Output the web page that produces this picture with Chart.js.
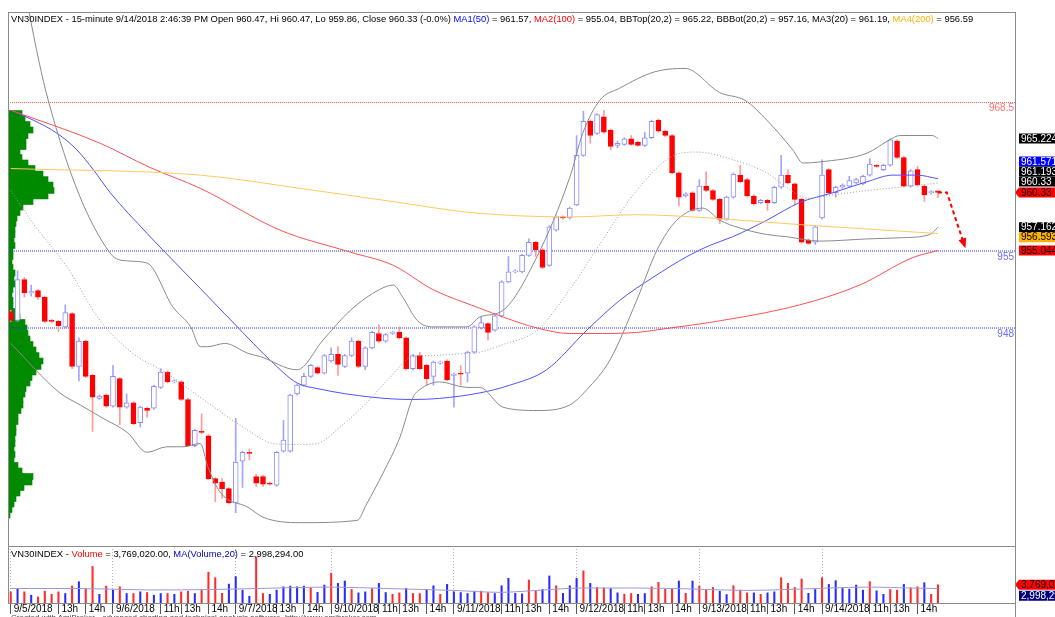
<!DOCTYPE html>
<html lang="en">
<head>
  <meta charset="UTF-8" />
  <title>VN30INDEX - 15-minute</title>
  <script src="https://cdn.jsdelivr.net/npm/chart.js"></script>
  <style>
    html, body { margin: 0; padding: 0; background: #fff; overflow: hidden; }
    body { width: 1055px; height: 617px; position: relative; font-family: 'Liberation Sans', Arial, sans-serif; }
    canvas { position: absolute; left: 0; }
    .hdr { position: absolute; left: 11px; font-size: 9.4px; line-height: 11px; white-space: nowrap; color: #000; }
    .foot { position: absolute; left: 11px; top: 613px; font-size: 8px; color: #444; white-space: nowrap; }
    .rule { position: absolute; background: #8a8a8a; }
  </style>
</head>
<body>
  <canvas id="profile" width="1055" height="546" style="top:0"></canvas>
  <canvas id="main" width="1055" height="546" style="top:0"></canvas>
  <canvas id="vol" width="1055" height="71" style="top:546px"></canvas>

  <div class="rule" style="left:8px; top:12px; width:1007px; height:1px"></div>
  <div class="rule" style="left:8px; top:12px; width:1px; height:591px"></div>
  <div class="rule" style="left:1015px; top:12px; width:1px; height:605px"></div>
  <div class="rule" style="left:8px; top:546px; width:1007px; height:1px"></div>

  <div class="hdr" style="top:13px">VN30INDEX - 15-minute 9/14/2018 2:46:39 PM Open 960.47, Hi 960.47, Lo 959.86, Close 960.33 (-0.0%) <span style="color:#0000ff">MA1(50)</span> = 961.57, <span style="color:#ff0000">MA2(100)</span> = 955.04, BBTop(20,2) = 965.22, BBBot(20,2) = 957.16, MA3(20) = 961.19, <span style="color:#ffb000">MA4(200)</span> = 956.59</div>
  <div class="hdr" style="top:548px">VN30INDEX - <span style="color:#ff0000">Volume</span> = 3,769,020.00, <span style="color:#0000c0">MA(Volume,20)</span> = 2,998,294.00</div>
  <div class="foot">Created with AmiBroker - advanced charting and technical analysis software. http://www.amibroker.com</div>

  <script>
    // 15-minute bars (index 0 = first visible bar)
    const openP = [949.5,948.7,952.4,951.2,951.4,950.8,948.7,948.6,948.1,949.3,944.5,946.8,943.7,941.6,941.9,940.9,943.4,940.8,941.2,939.4,
      940.7,940.7,942.6,944.0,943.1,943.1,941.5,937.3,938.6,938.2,934.3,934.0,933.4,932.1,935.9,936.7,934.5,934.5,933.9,933.7,
      936.8,936.8,942.0,942.8,943.6,944.4,943.9,945.0,945.6,944.5,945.5,946.8,944.5,946.2,947.5,946.8,947.5,947.6,947.1,944.3,
      945.5,944.6,943.6,944.8,945.0,943.7,943.9,943.9,945.8,948.0,948.4,947.8,949.1,952.2,953.1,953.1,954.6,955.8,955.1,953.7,
      956.9,958.1,958.0,959.2,963.7,966.8,965.7,967.2,966.0,964.6,964.7,965.2,964.9,964.6,965.3,966.9,965.9,965.5,962.1,960.0,
      960.3,958.7,960.9,960.5,959.7,957.9,959.9,961.9,961.5,960.0,959.4,959.6,959.4,960.8,961.9,961.1,959.7,956.0,955.8,958.0,
      962.4,960.3,960.8,960.9,961.2,961.1,961.9,962.8,962.4,962.8,965.0,963.5,960.9,962.4,960.9,960.3,960.47];
    const highP = [949.6,953.2,952.6,951.9,951.5,950.9,948.8,948.7,950.1,949.4,947.1,946.9,943.8,941.9,942.0,944.6,943.5,942.0,941.3,940.9,
      940.8,942.8,944.3,944.1,943.3,943.2,941.6,938.8,940.2,938.3,934.4,934.3,933.5,939.8,936.8,937.0,934.7,934.6,934.0,936.8,
      939.6,942.0,942.9,943.9,944.7,944.5,945.6,946.2,946.3,945.6,947.1,946.9,946.3,947.7,948.3,947.5,947.7,948.1,947.2,945.6,
      945.8,944.7,945.0,945.0,945.1,943.9,944.6,945.9,948.2,949.0,948.5,949.2,952.3,954.5,953.3,954.7,956.1,955.9,955.2,957.3,
      958.2,958.2,959.0,965.5,967.7,966.9,967.5,967.8,966.1,965.0,965.3,965.5,965.0,965.8,966.9,967.0,966.0,965.6,962.2,960.3,
      960.4,961.5,962.2,960.6,959.8,960.0,962.1,962.8,961.6,960.1,959.7,959.7,960.9,963.7,962.4,961.2,959.8,956.1,957.3,963.3,
      962.5,960.9,961.1,961.8,961.6,961.9,963.4,962.9,962.9,965.2,965.1,963.6,962.4,962.7,961.0,960.5,960.47];
    const lowP = [948.6,948.6,950.8,950.9,950.6,948.5,948.5,947.7,948.0,944.3,943.2,943.5,938.6,941.5,940.8,940.8,939.2,940.7,939.2,939.0,
      939.9,940.6,942.5,943.0,943.0,941.4,937.2,937.2,938.4,934.2,932.2,932.5,932.0,931.2,933.5,936.0,933.6,933.6,933.7,933.6,
      936.7,936.7,941.9,942.7,943.5,943.8,943.8,944.9,943.7,944.4,945.4,944.4,944.2,946.1,946.7,946.7,947.4,947.0,944.2,944.2,
      944.2,942.8,942.8,944.7,943.2,940.8,942.8,943.1,945.7,947.9,946.9,947.7,949.0,952.1,953.0,953.0,954.5,954.5,953.4,953.6,
      956.8,957.9,957.9,959.1,963.6,964.8,965.6,965.7,964.2,964.4,964.6,964.6,964.5,964.5,965.2,965.8,965.4,962.0,959.1,959.9,
      958.6,958.6,960.4,959.6,957.5,957.8,959.8,961.2,959.9,959.2,959.3,958.7,959.3,960.7,961.1,959.2,955.7,955.6,955.6,957.9,
      960.2,959.9,960.7,960.8,961.1,961.0,961.8,962.6,962.3,962.7,963.4,960.8,960.8,960.9,959.5,960.2,959.86];
    const closeP = [948.7,952.4,951.2,951.3,950.8,948.6,948.6,948.2,949.4,944.5,946.8,943.6,941.7,941.8,940.9,943.6,940.8,941.2,939.3,940.8,
      940.5,942.7,944.0,943.1,943.2,941.5,937.3,938.7,938.5,934.3,933.9,933.4,932.1,935.8,936.7,936.6,933.9,933.8,933.8,936.7,
      937.8,941.9,942.8,943.6,944.6,943.9,945.5,945.6,944.7,945.5,946.8,944.5,946.2,947.6,946.8,947.4,947.6,947.1,944.3,945.5,
      944.3,943.4,944.9,944.9,943.3,943.8,943.8,945.8,948.1,948.5,947.6,949.1,952.2,953.1,953.2,954.6,955.8,955.1,953.5,957.2,
      958.1,958.0,958.9,963.7,966.8,965.5,967.4,965.8,964.5,964.8,965.2,964.7,964.6,965.3,966.8,965.9,965.5,962.1,959.9,960.2,
      958.7,960.9,960.5,959.7,957.9,959.9,962.0,961.3,960.0,959.3,959.6,959.4,960.8,961.9,961.2,959.7,955.8,955.7,957.2,961.9,
      960.3,960.8,961.0,961.4,961.5,961.8,962.9,962.7,962.8,965.1,963.5,960.9,962.3,961.0,960.1,960.4,960.33];

    // volume in millions, colour letter per bar as drawn
    const volume = [2.31,3.01,2.31,1.61,1.26,2.45,1.8,2.31,1.96,3.5,4.41,3.01,7.56,1.8,3.5,2.66,3.36,1.96,1.96,2.31,
      2.17,1.61,1.96,1.96,1.8,2.31,2.45,1.96,2.66,6.37,5.25,2.0,3.92,5.46,2.66,1.4,9.52,1.96,1.8,2.66,
      3.36,3.5,3.36,3.5,3.15,2.2,3.71,6.16,4.06,4.55,2.8,2.1,2.31,3.01,4.06,2.17,1.8,2.1,3.01,1.96,
      1.96,2.8,3.57,1.8,3.85,2.31,2.17,1.96,2.45,2.45,2.17,1.96,3.57,5.11,2.0,1.89,4.76,2.45,2.8,5.6,
      3.57,2.0,3.57,5.11,6.65,4.06,3.22,3.15,3.01,2.1,1.82,1.96,1.8,1.96,3.36,4.27,2.87,3.01,4.55,2.0,
      4.55,3.5,2.8,3.22,2.45,1.75,3.57,2.66,2.1,2.1,1.8,2.1,2.31,5.25,4.06,3.22,4.97,2.0,2.8,5.25,
      3.85,4.62,3.01,2.87,3.71,2.66,4.41,2.52,1.8,2.8,2.66,3.85,3.15,3.36,4.2,1.8,3.769];
    const volDir = ('rbrbrrrrbrbrrbrbrbrbrbbrbrrbrrrrbbbbrrbbbbbbrbbrbbrbbrbbrrbrrbbrbbbbbrrbbbbbrrbbrbbbrbrrbbrrbbrrrrbrbrrrbbrrrbrbbrrrrbbrbbbbbbrbbrrbrrbr').split('');

    const volMaIdx = [0, 10, 20, 30, 36, 47, 55, 65, 72, 76, 84, 92, 100, 108, 114, 120, 126, 132, 136];
    const volMa    = [3.0, 3.0, 2.7, 2.8, 3.0, 3.3, 3.0, 2.6, 2.2, 2.5, 3.1, 3.1, 2.9, 2.6, 2.8, 3.1, 3.3, 3.1, 2.998];

    // indicator lines, values read at selected bars
    const ma50Idx = [0, 3.3, 6.8, 9.7, 12.1, 14.6, 20.0, 22.3, 27.8, 34.8, 38.0, 42.0, 44.9, 53.1, 59.0, 62.9, 68.8, 73.2, 78.6, 84.5, 89.3, 94.2, 99.2, 102.5, 105.9, 110.9, 115.7, 120.6, 125.6, 129.4, 132.9, 136];
    const ma50    = [967.8, 966.9, 965.7, 964.2, 962.4, 960.3, 956.6, 955.1, 951.6, 947.1, 945.1, 943.0, 942.5, 941.7, 941.5, 941.6, 942.1, 942.8, 944.2, 947.8, 950.5, 952.6, 954.5, 955.5, 956.3, 957.8, 959.4, 960.3, 961.3, 961.9, 961.9, 961.57];
    const ma100Idx = [0, 13.1, 20.4, 27.8, 39.5, 49.8, 56.1, 61.9, 68.8, 72.2, 77.2, 82.0, 86.8, 91.8, 96.7, 102.5, 115.7, 124.5, 132.3, 136];
    const ma100    = [967.8, 964.8, 962.6, 960.7, 956.9, 954.9, 953.7, 951.5, 949.8, 949.0, 948.0, 947.5, 947.5, 947.6, 948.0, 948.5, 950.1, 951.9, 954.4, 955.04];
    const ma200Idx = [0, 27.8, 42.4, 57.1, 67.4, 82.0, 91.8, 102.5, 115.7, 136];
    const ma200    = [962.5, 961.9, 960.7, 959.4, 958.5, 958.1, 958.3, 958.0, 957.4, 956.59];
    const ma20Idx = [0, 3.3, 8.3, 13.1, 17.9, 22.9, 27.8, 34.8, 38.5, 42.0, 44.9, 48.3, 52.2, 55.6, 59.0, 61.9, 66.9, 68.8, 72.2, 77.2, 82.0, 86.8, 91.8, 96.7, 100.6, 105.9, 110.9, 114.7, 116.8, 120.6, 125.6, 130.4, 136];
    const ma20    = [960.5, 957.5, 953.5, 948.7, 945.7, 943.9, 941.7, 938.7, 937.5, 937.4, 937.5, 939.0, 941.2, 943.5, 945.4, 945.5, 945.7, 945.8, 946.5, 947.8, 951.5, 956.0, 960.5, 963.5, 964.0, 963.3, 962.1, 960.4, 959.8, 960.1, 960.5, 960.8, 961.19];
    const bbTopIdx = [0, 5.5, 14.6, 17.1, 20.0, 23.8, 26.4, 27.8, 28.9, 31.4, 34.8, 36.6, 42.0, 45.8, 49.8, 54.1, 56.1, 57.5, 59.6, 61.9, 66.9, 68.8, 72.2, 77.2, 82.0, 83.9, 86.4, 89.3, 94.5, 98.9, 104.0, 107.7, 110.9, 114.7, 116.2, 118.7, 125.6, 128.9, 130.4, 135.2, 136];
    const bbTop    = [985.4, 968.7, 954.8, 954.1, 953.9, 949.9, 948.1, 946.3, 946.3, 946.6, 945.7, 945.4, 944.2, 946.9, 949.6, 951.5, 951.9, 950.8, 948.7, 948.1, 948.1, 949.0, 949.6, 954.5, 961.7, 965.7, 968.7, 969.8, 971.3, 971.6, 969.4, 968.7, 966.9, 964.2, 963.0, 963.1, 963.9, 965.1, 965.5, 965.5, 965.224];
    const bbBotIdx = [0, 7.2, 10.2, 13.5, 17.1, 20.0, 22.9, 25.3, 27.8, 28.9, 30.8, 34.8, 37.0, 42.4, 50.8, 52.2, 54.6, 57.1, 59.0, 60.0, 62.9, 66.9, 68.8, 72.2, 77.2, 82.0, 84.5, 87.9, 91.8, 94.8, 97.7, 101.5, 104.0, 106.9, 110.9, 113.8, 118.7, 125.6, 130.4, 134.8, 136];
    const bbBot    = [946.6, 942.1, 941.0, 939.8, 938.5, 936.7, 937.2, 937.2, 937.5, 935.4, 933.0, 931.7, 930.8, 930.3, 930.5, 932.0, 934.8, 938.1, 941.7, 942.4, 943.1, 942.6, 942.6, 940.8, 940.5, 941.0, 942.4, 945.1, 950.5, 955.1, 957.8, 958.9, 957.8, 957.1, 956.5, 956.3, 955.9, 956.1, 956.2, 956.5, 957.162];

    // price-volume distribution (left histogram)
    const profPrice = [967.5,967,966.5,966,965.5,965,964.5,964,963.5,963,962.5,962,961.5,961,960.5,960,959.5,959,958.5,958,
      957.5,957,956.5,956,955.5,955,954.5,954,953.5,953,952.5,952,951.5,951,950.5,950,949.5,949,948.5,948,
      947.5,947,946.5,946,945.5,945,944.5,944,943.5,943,942.5,942,941.5,941,940.5,940,939.5,939,938.5,938,
      937.5,937,936.5,936,935.5,935,934.5,934,933.5,933,932.5,932,931.5,931];
    const profVol = [14,17,22,25,20,18,18,12,14,20,27,35,40,45,46,40,25,15,12,9,
      8,7,7,6,7,5,5,4,5,7,6,7,5,4,5,5,8,12,17,19,
      20,22,25,28,31,35,33,28,24,22,18,17,15,15,13,10,10,8,8,7,
      7,6,7,6,10,14,25,24,16,12,8,6,4,2];

    // study lines, arrow and right-edge tags
    const levels = [968.5, 955, 948];
    const levelText = ['968.5', '955', '948'];
    const arrowIdx = [136, 137.3, 139.9];
    const arrowVal = [960.33, 960.33, 955.5];
    const tagText  = ['965.224', '961.571', '961.193', '960.33', '960.33', '957.162', '956.593', '955.044'];
    const tagValue = [965.224, 961.571, 961.193, 960.33, 960.33, 957.162, 956.593, 955.044];
    const tagBg    = ['#000000', '#0000ff', '#000000', '#000000', '#ff0000', '#000000', '#ffb000', '#ff0000'];
    const tagFg    = ['#ffffff', '#ffffff', '#ffffff', '#ffffff', '#000000', '#ffffff', '#000000', '#000000'];
    const volTagText  = ['3,769,020.00', '2,998,294.00'];
    const volTagValue = [3.769, 2.998];
    const volTagBg    = ['#ff0000', '#000080'];
    const volTagFg    = ['#000000', '#ffffff'];

    const xTickIdx  = [0, 7, 11, 15, 22, 25, 29, 33, 39, 43, 47, 54, 57, 61, 65, 72, 75, 79, 83, 90, 93, 97, 101, 108, 111, 115, 119, 126, 129, 133];
    const xTickText = ['9/5/2018','13h','14h','9/6/2018','11h','13h','14h','9/7/2018','13h','14h','9/10/2018','11h','13h','14h','9/11/2018','11h','13h','14h','9/12/2018','11h','13h','14h','9/13/2018','11h','13h','14h','9/14/2018','11h','13h','14h'];

    const X_MIN = -0.4, X_MAX = 147.3;
    const Y_MIN = 928.18, Y_MAX = 976.73;
    const FONT = "'Liberation Sans', Arial, sans-serif";
    Chart.defaults.font.family = FONT;

    const idx = openP.map((_, i) => i);
    const isUp = idx.map(i => closeP[i] >= openP[i]);
    const pts = (xs, ys) => xs.map((x, k) => ({ x: x, y: ys[k] }));
    const pad = { left: 8, right: 40, top: 12, bottom: 0 };

    function lineSet(xs, ys, color, extra) {
      return Object.assign({
        type: 'line', data: pts(xs, ys), borderColor: color, borderWidth: 1,
        pointRadius: 0, cubicInterpolationMode: 'monotone', order: 1
      }, extra || {});
    }

    // stack tags so they do not overlap, price tag stays where it is
    function placeTags(values, anchor, yScale, h) {
      const yc = values.map(v => yScale.getPixelForValue(v));
      const above = values.map((v, k) => k).filter(k => k !== anchor && values[k] >= values[anchor]).sort((a, b) => values[a] - values[b]);
      const below = values.map((v, k) => k).filter(k => k !== anchor && values[k] < values[anchor]).sort((a, b) => values[b] - values[a]);
      let top = yc[anchor] - h / 2 - 1;
      above.forEach(k => { yc[k] = Math.min(yc[k], top - h / 2); top = yc[k] - h / 2; });
      let bot = yc[anchor] + h / 2 + 1;
      below.forEach(k => { yc[k] = Math.max(yc[k], bot + h / 2); bot = yc[k] + h / 2; });
      return yc;
    }

    function drawTag(ctx, x0, yc, text, bg, fg, pointer, w) {
      const h = 10;
      ctx.fillStyle = bg;
      ctx.beginPath();
      if (pointer) { ctx.moveTo(x0 - 4, yc); ctx.lineTo(x0, yc - h / 2); } else { ctx.moveTo(x0, yc - h / 2); }
      ctx.lineTo(w, yc - h / 2);
      ctx.lineTo(w, yc + h / 2);
      ctx.lineTo(x0, yc + h / 2);
      ctx.closePath();
      ctx.fill();
      ctx.fillStyle = fg;
      ctx.textAlign = 'left';
      ctx.textBaseline = 'middle';
      ctx.fillText(text, x0 + 2, yc + 0.5);
    }

    const mainDecor = {
      id: 'mainDecor',
      afterDatasetsDraw(chart) {
        const { ctx, chartArea, scales } = chart;
        const x = scales.x, y = scales.y;
        ctx.save();
        // level labels
        ctx.font = '10px ' + FONT;
        ctx.textAlign = 'right';
        ctx.textBaseline = 'top';
        levels.forEach((v, k) => {
          ctx.fillStyle = k === 0 ? '#ff7070' : '#6a6aff';
          ctx.fillText(levelText[k], chartArea.right - 1, y.getPixelForValue(v) + 1);
        });
        // arrow head
        const n = arrowIdx.length;
        const ex = x.getPixelForValue(arrowIdx[n - 1]), ey = y.getPixelForValue(arrowVal[n - 1]);
        const sx = x.getPixelForValue(arrowIdx[n - 2]), sy = y.getPixelForValue(arrowVal[n - 2]);
        const ang = Math.atan2(ey - sy, ex - sx);
        ctx.fillStyle = '#ff0000';
        ctx.beginPath();
        ctx.moveTo(ex + 3 * Math.cos(ang), ey + 3 * Math.sin(ang));
        ctx.lineTo(ex - 7 * Math.cos(ang) + 4 * Math.sin(ang), ey - 7 * Math.sin(ang) - 4 * Math.cos(ang));
        ctx.lineTo(ex - 7 * Math.cos(ang) - 4 * Math.sin(ang), ey - 7 * Math.sin(ang) + 4 * Math.cos(ang));
        ctx.closePath();
        ctx.fill();
        // value tags on the right
        ctx.font = '10px ' + FONT;
        const yc = placeTags(tagValue, 4, y, 10);
        tagValue.forEach((v, k) => drawTag(ctx, chartArea.right + 4, yc[k], tagText[k], tagBg[k], tagFg[k], k === 4, chart.width + 5));
        ctx.restore();
      }
    };

    const volDecor = {
      id: 'volDecor',
      afterDatasetsDraw(chart) {
        const { ctx, chartArea, scales } = chart;
        ctx.save();
        ctx.font = '10px ' + FONT;
        const yc = placeTags(volTagValue, 0, scales.y, 10);
        volTagValue.forEach((v, k) => drawTag(ctx, chartArea.right + 4, yc[k], volTagText[k], volTagBg[k], volTagFg[k], k === 0, chart.width + 5));
        ctx.restore();
      }
    };

    const hiddenX = { type: 'linear', min: X_MIN, max: X_MAX, offset: false, display: false, grid: { offset: false } };

    // volume at price, drawn behind the candles
    new Chart(document.getElementById('profile'), {
      type: 'bar',
      data: {
        datasets: [{
          data: pts(profVol, profPrice), indexAxis: 'y', backgroundColor: '#008a00',
          barThickness: 6, grouped: false
        }]
      },
      options: {
        indexAxis: 'y', responsive: false, animation: false, events: [],
        layout: { padding: pad },
        plugins: { legend: { display: false }, tooltip: { enabled: false } },
        scales: {
          x: { type: 'linear', min: 0, max: 1007, display: false },
          y: { type: 'linear', min: Y_MIN, max: Y_MAX, display: false, offset: false }
        }
      }
    });

    // price panel
    new Chart(document.getElementById('main'), {
      type: 'bar',
      data: {
        datasets: [
          ...levels.map((v, k) => lineSet([X_MIN, X_MAX], [v, v], k === 0 ? '#ff5a5a' : '#3030ff', { borderDash: [1, 1], order: 6, cubicInterpolationMode: 'default', tension: 0 })),
          {
            type: 'bar', data: idx.map(i => ({ x: i, y: [lowP[i], highP[i]] })),
            backgroundColor: isUp.map(u => u ? '#a4a4ff' : '#ff9a9a'),
            barThickness: 1, grouped: false, order: 5
          },
          {
            type: 'bar', data: idx.map(i => ({ x: i, y: [openP[i], closeP[i]] })),
            backgroundColor: isUp.map(u => u ? '#ffffff' : '#ff0000'),
            borderColor: isUp.map(u => u ? '#8c8cff' : '#ff0000'),
            borderWidth: 1, borderSkipped: false, barThickness: 5, minBarLength: 1, grouped: false, order: 4
          },
          lineSet(ma200Idx, ma200, '#ffc860'),
          lineSet(ma100Idx, ma100, '#ff5050'),
          lineSet(bbTopIdx, bbTop, '#8a8a8a'),
          lineSet(bbBotIdx, bbBot, '#8a8a8a'),
          lineSet(ma20Idx, ma20, '#9a9a9a', { borderDash: [1, 2] }),
          lineSet(ma50Idx, ma50, '#5050ff'),
          lineSet(arrowIdx, arrowVal, '#ff0000', { borderWidth: 2, borderDash: [4, 3], cubicInterpolationMode: 'default', tension: 0, order: 0 })
        ]
      },
      options: {
        responsive: false, animation: false, events: [],
        layout: { padding: pad },
        plugins: { legend: { display: false }, tooltip: { enabled: false } },
        scales: {
          x: hiddenX,
          y: { type: 'linear', min: Y_MIN, max: Y_MAX, display: false }
        }
      },
      plugins: [mainDecor]
    });

    // volume panel
    new Chart(document.getElementById('vol'), {
      type: 'bar',
      data: {
        datasets: [
          {
            type: 'bar', data: idx.map(i => ({ x: i, y: volume[i] })),
            backgroundColor: volDir.map(d => d === 'r' ? '#ff2a2a' : '#2a2aff'),
            barThickness: 1.4, grouped: false, order: 2
          },
          lineSet(volMaIdx, volMa, '#9a9ad6')
        ]
      },
      options: {
        responsive: false, animation: false, events: [],
        layout: { padding: { left: 8, right: 40, top: 0, bottom: 0 } },
        plugins: { legend: { display: false }, tooltip: { enabled: false } },
        scales: {
          x: {
            type: 'linear', min: X_MIN, max: X_MAX, offset: false,
            afterBuildTicks: (ax) => { ax.ticks = xTickIdx.map(v => ({ value: v })); },
            afterFit: (ax) => { ax.height = 14; },
            ticks: {
              autoSkip: false, maxRotation: 0, minRotation: 0, align: 'start', labelOffset: 3, padding: -11,
              color: '#000', font: { size: 10 },
              callback: (v) => xTickText[xTickIdx.indexOf(v)]
            },
            grid: {
              offset: false, drawTicks: true, tickLength: 11, tickColor: '#555',
              color: (c) => (c.tick && xTickText[xTickIdx.indexOf(c.tick.value)].indexOf('/') > 0) ? '#b4b4b4' : 'rgba(0,0,0,0)'
            },
            border: { display: true, color: '#8a8a8a', dash: [1, 2] }
          },
          y: { type: 'linear', min: 0, max: 11.8, display: false }
        }
      },
      plugins: [volDecor]
    });
  </script>
</body>
</html>
